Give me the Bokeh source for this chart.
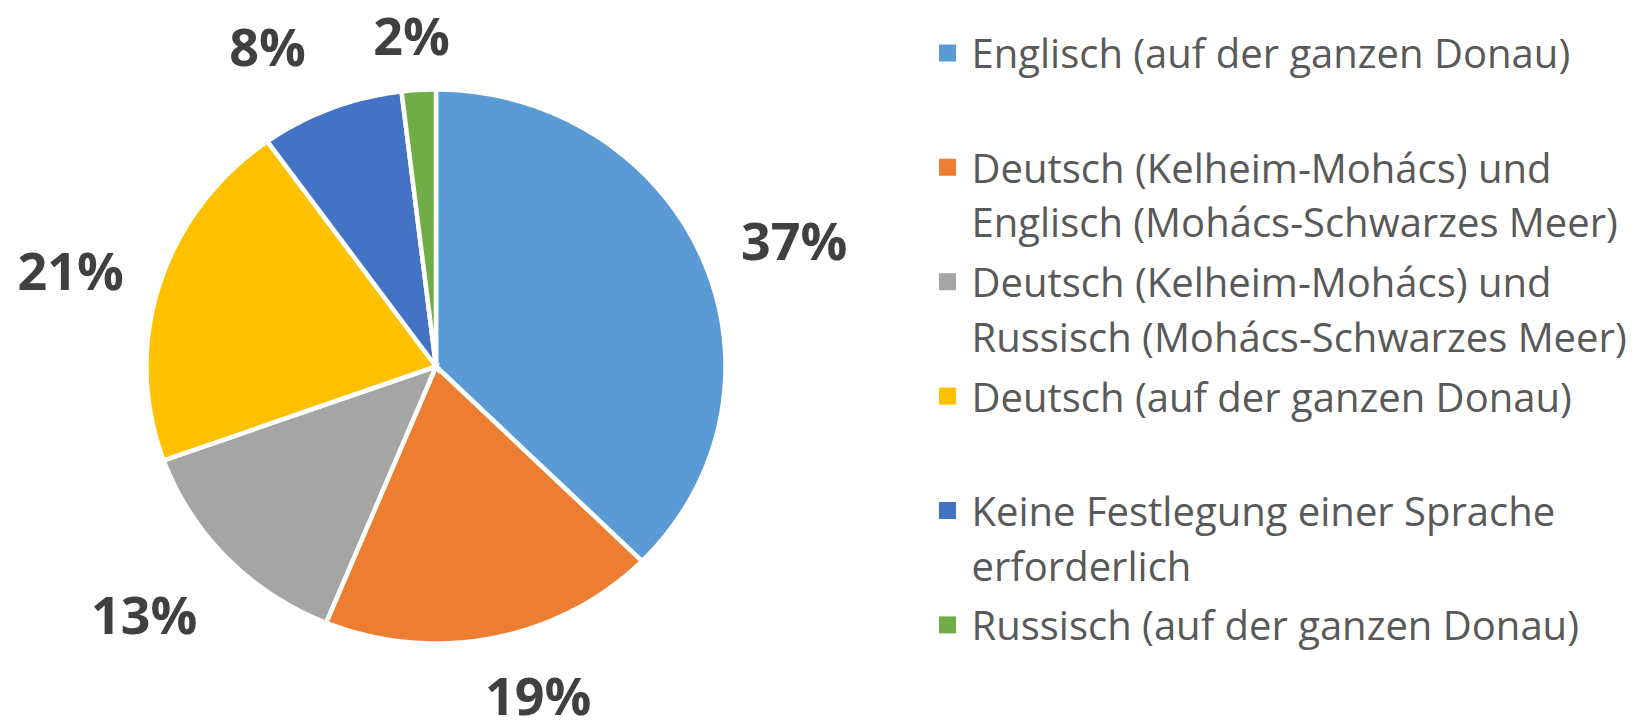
import numpy as np
from bokeh.plotting import figure
from bokeh.models import Range1d, ColumnDataSource
from bokeh.core.properties import value
from bokeh.embed import file_html
from bokeh.resources import INLINE

# ---------------- data ----------------
categories = [
    "Englisch (auf der ganzen Donau)",
    "Deutsch (Kelheim-Mohács) und\nEnglisch (Mohács-Schwarzes Meer)",
    "Deutsch (Kelheim-Mohács) und\nRussisch (Mohács-Schwarzes Meer)",
    "Deutsch (auf der ganzen Donau)",
    "Keine Festlegung einer Sprache\nerforderlich",
    "Russisch (auf der ganzen Donau)",
]
shares = [37.4, 18.8, 13.3, 20.6, 8.0, 1.9]
pct_labels = ["37%", "19%", "13%", "21%", "8%", "2%"]

# ---------------- style / layout ----------------
colors = ["#5B9BD5", "#ED7D31", "#A5A5A5", "#FFC000", "#4472C4", "#70AD47"]
W, H = 1644, 721
cx, cy = 435.5, 366.0          # pie centre (px)
rx, ry = 289.5, 277.0          # pie radii (px)
label_k = 1.3                  # radial factor for data labels
label_nudge_x = [11, 27, -20, -6, -32, -2]
label_nudge_y = [12, -25, -2, 10, 15, 27]
label_font = value("Open Sans")
legend_marker_x, legend_text_x = 947, 971
legend_top, legend_pitch = 52.4, 57.2

p = figure(width=W, height=H, output_backend="svg", toolbar_location=None,
           x_range=Range1d(0, W), y_range=Range1d(H, 0),
           min_border=0, outline_line_color=None, background_fill_color="white",
           border_fill_color="white")
p.axis.visible = False
p.grid.visible = False

# ---------------- pie slices ----------------
total = float(sum(shares))
bounds = np.concatenate([[0.0], np.cumsum(shares) / total]) * 2 * np.pi
xs, ys = [], []
for a0, a1 in zip(bounds[:-1], bounds[1:]):
    t = np.linspace(a0, a1, max(3, int((a1 - a0) / (2 * np.pi) * 400)))
    xs.append([cx] + list(cx + rx * np.sin(t)) + [cx])
    ys.append([cy] + list(cy - ry * np.cos(t)) + [cy])
p.patches(xs="xs", ys="ys", fill_color="color", line_color="white", line_width=4.5,
          line_join="miter",
          source=ColumnDataSource(dict(xs=xs, ys=ys, color=colors)))

# ---------------- data labels ----------------
mid = (bounds[:-1] + bounds[1:]) / 2
lx = cx + label_k * rx * np.sin(mid) + np.array(label_nudge_x)
ly = cy - label_k * ry * np.cos(mid) + np.array(label_nudge_y)
p.text(x=lx, y=ly, text=pct_labels, text_font=label_font, text_font_style="bold",
       text_font_size="52px", text_color="#404040", text_align="center",
       text_baseline="middle")

# ---------------- legend ----------------
mx, my, mc = [], [], []
tx, ty, tt = [], [], []
for k, (cat, col) in enumerate(zip(categories, colors)):
    y0 = legend_top + 2 * k * legend_pitch
    mx.append(legend_marker_x); my.append(y0); mc.append(col)
    for j, line in enumerate(cat.split("\n")):
        tx.append(legend_text_x); ty.append(y0 + j * legend_pitch * 0.955); tt.append(line)
p.scatter(x=mx, y=my, marker="square", size=17, fill_color=mc, line_color=None)
p.text(x=tx, y=ty, text=tt, text_font=label_font, text_font_size="40px",
       text_color="#595959", text_align="left", text_baseline="middle")

open("out.html", "w").write(file_html(p, INLINE))
